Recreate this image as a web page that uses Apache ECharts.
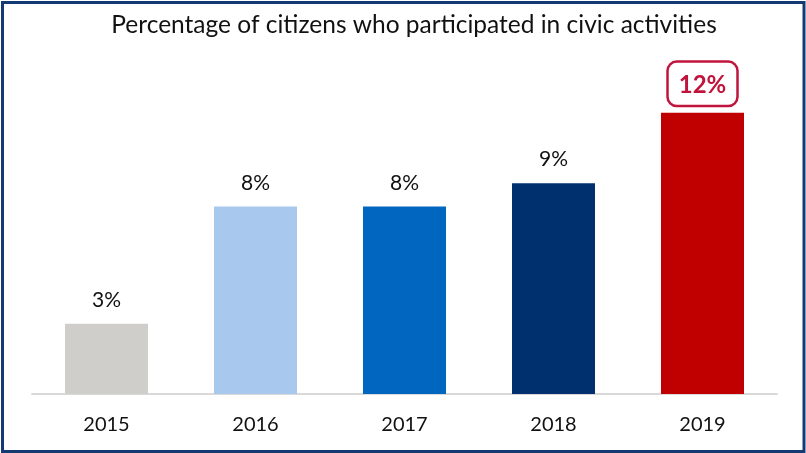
<!DOCTYPE html>
<html>
<head>
<meta charset="utf-8">
<script src="https://cdn.jsdelivr.net/npm/echarts@6/dist/echarts.min.js"></script>
<style>
  html, body { margin: 0; padding: 0; background: #ffffff; }
  #chart { width: 806px; height: 453px; }
</style>
</head>
<body>
<div id="chart"></div>
<script>
// Civic participation share by year
const years = ['2015', '2016', '2017', '2018', '2019'];
const participation = [3, 8, 8, 9, 12];
const barColors = ['#d0cecb', '#a9c8ee', '#0066c0', '#00306e', '#c00000'];
const titleText = 'Percentage of citizens who participated in civic activities';

const FONT = 'Lato, "Noto Sans", sans-serif';
const lastIdx = participation.length - 1;

const barData = participation.map((v, i) => {
  const item = { value: v, itemStyle: { color: barColors[i] } };
  if (i === lastIdx) {
    // latest year is highlighted with an outlined badge
    item.label = {
      color: '#c0143c',
      fontWeight: 'bold',
      fontSize: 24,
      backgroundColor: '#ffffff',
      borderColor: '#c0143c',
      borderWidth: 2.5,
      borderRadius: 8,
      padding: [10, 10, 8, 10],
      distance: 8
    };
  }
  return item;
});

const chart = echarts.init(document.getElementById('chart'), null, { renderer: 'canvas' });
chart.setOption({
  animation: false,
  title: {
    text: titleText,
    left: 409,
    textAlign: 'center',
    top: 8,
    textStyle: { fontFamily: FONT, fontSize: 24.5, fontWeight: 'normal', color: '#111111' }
  },
  grid: { left: 32, right: 29, top: 66, bottom: 59 },
  xAxis: {
    type: 'category',
    data: years,
    axisLine: { lineStyle: { color: '#d9d9d9', width: 2 } },
    axisTick: { show: false },
    axisLabel: { fontFamily: FONT, fontSize: 20, color: '#111111', margin: 21 }
  },
  yAxis: {
    type: 'value',
    min: 0,
    max: 14,
    show: false,
    splitLine: { show: false }
  },
  series: [{
    type: 'bar',
    data: barData,
    barWidth: 83,
    label: {
      show: true,
      position: 'top',
      distance: 13,
      fontFamily: FONT,
      fontSize: 21,
      color: '#111111',
      formatter: p => p.value + '%'
    }
  }],
  graphic: [{
    type: 'rect',
    shape: { x: 2.5, y: 2.5, width: 801.5, height: 449 },
    style: { fill: 'none', stroke: '#143a73', lineWidth: 3 },
    silent: true
  }]
});
</script>
</body>
</html>
